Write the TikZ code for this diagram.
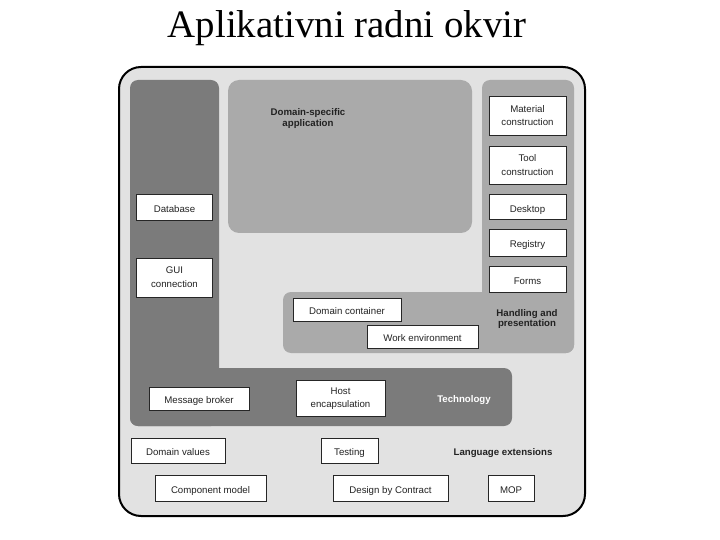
\documentclass[tikz,border=0pt]{standalone}
\usepackage{fontspec}
\setmainfont{Liberation Sans}
\newfontfamily\titlefont{Liberation Serif}
\definecolor{outerfill}{HTML}{E2E2E2}
\definecolor{darkreg}{HTML}{7B7B7B}
\definecolor{midreg}{HTML}{AAAAAA}
\definecolor{txt}{HTML}{222222}
\begin{document}
\begin{tikzpicture}[x=1bp,y=-1bp,
  box/.style={draw=black!85, fill=white, line width=1bp, align=center,
    text=txt, font=\fontsize{9.7}{13.5}\selectfont, inner sep=0pt,
    execute at begin node={\rule{0pt}{12bp}}, execute at end node={\rule[-2bp]{0pt}{2bp}}},
  lbl/.style={align=center, text=txt, font=\fontsize{9.7}{11}\selectfont\bfseries, inner sep=0pt},
  region/.style={rounded corners=8bp, draw=none}]
\useasboundingbox (0,0) rectangle (720,540);
% title
\node[font=\titlefont\fontsize{39}{44}\selectfont, inner sep=0pt, anchor=base] (title) at (347,38) {Aplikativni radni okvir};
% outer frame
\draw[fill=outerfill, line width=2bp, rounded corners=22bp] (119,67) rectangle (585,516);
% Technology L-shape
\fill[darkreg, region] (130,80) rectangle (219,426);
\fill[darkreg, region] (130,368) rectangle (512,426);
% Domain-specific application
\fill[midreg, rounded corners=11bp] (228,80) rectangle (472,233);
% Handling and presentation L-shape
\fill[midreg, region] (482,80) rectangle (574,353);
\fill[midreg, region] (283,292) rectangle (574,353);
% labels
\node[lbl] (dsa) at (308,118.5) {Domain-specific\\application};
\node[lbl] (hap) at (527,319) {Handling and\\presentation};
\node[lbl, text=white] (tech) at (464,400.5) {Technology};
\node[lbl] (lang) at (503,453.5) {Language extensions};
% technology boxes
\node[box, minimum width=76bp, minimum height=26bp] (db) at (174.5,208) {Database};
\node[box, minimum width=76bp, minimum height=38bp] (gui) at (174.5,278) {GUI\\connection};
\node[box, minimum width=100bp, minimum height=23bp] (mb) at (199,398.5) {Message broker};
\node[box, minimum width=89bp, minimum height=36bp] (host) at (340.5,398.5) {Host\\encapsulation};
% handling boxes
\node[box, minimum width=77bp, minimum height=39bp] (mat) at (527.5,116.5) {Material\\construction};
\node[box, minimum width=77bp, minimum height=38bp] (tool) at (527.5,166) {Tool\\construction};
\node[box, minimum width=77bp, minimum height=25bp] (desk) at (527.5,207.5) {Desktop};
\node[box, minimum width=77bp, minimum height=26bp] (reg) at (527.5,243) {Registry};
\node[box, minimum width=77bp, minimum height=25bp] (forms) at (527.5,279.5) {Forms};
\node[box, minimum width=108bp, minimum height=23bp] (dc) at (347,309.5) {Domain container};
\node[box, minimum width=111bp, minimum height=23bp] (we) at (422.5,336.5) {Work environment};
% language extension boxes
\node[box, minimum width=94bp, minimum height=25bp] (dv) at (178,450.5) {Domain values};
\node[box, minimum width=57bp, minimum height=25bp] (test) at (349.5,450.5) {Testing};
\node[box, minimum width=111bp, minimum height=26bp] (cm) at (210.5,488) {Component model};
\node[box, minimum width=115bp, minimum height=26bp] (dbc) at (390.5,488) {Design by Contract};
\node[box, minimum width=46bp, minimum height=26bp] (mop) at (511,488) {MOP};
\end{tikzpicture}
\end{document}
